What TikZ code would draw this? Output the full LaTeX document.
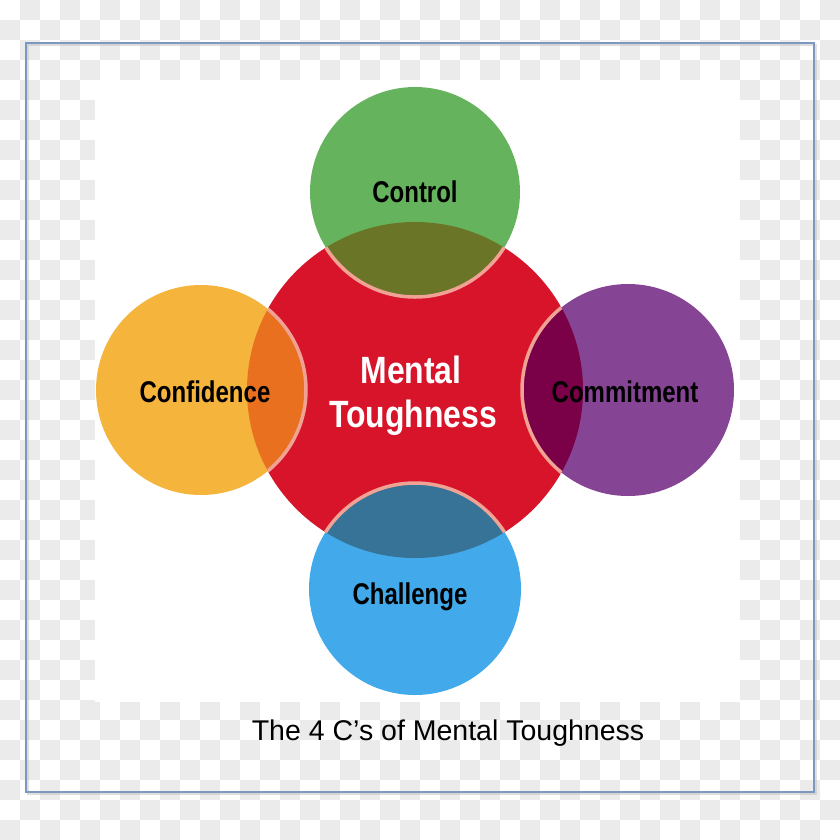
\documentclass[tikz,border=0pt]{standalone}
\usepackage{fontspec}
\setmainfont{Liberation Sans}
\newfontfamily\condfont[FakeStretch=0.80]{Liberation Sans}
\newfontfamily\condfontB[FakeStretch=0.84]{Liberation Sans}
\definecolor{redc}{RGB}{215,20,42}
\definecolor{greenc}{RGB}{102,179,93}
\definecolor{greenov}{RGB}{107,117,40}
\definecolor{orangec}{RGB}{245,180,60}
\definecolor{orangeov}{RGB}{232,112,30}
\definecolor{purplec}{RGB}{134,68,148}
\definecolor{purpleov}{RGB}{122,0,72}
\definecolor{bluec}{RGB}{66,170,234}
\definecolor{blueov}{RGB}{55,115,150}
\definecolor{pinkc}{RGB}{240,162,148}
\definecolor{checkc}{RGB}{235,235,235}
\definecolor{framec}{RGB}{124,152,192}
\tikzset{
  lbl/.style={font=\condfont\bfseries\fontsize{30}{30}\selectfont, text=black, inner sep=0pt, anchor=base},
  mainlbl/.style={font=\condfontB\bfseries\fontsize{38}{38}\selectfont, text=white, inner sep=0pt, anchor=base},
  seam/.style={draw=pinkc, line width=3.5}
}
\begin{document}
\begin{tikzpicture}[x=1pt,y=-1pt]
\useasboundingbox (0,0) rectangle (840,839);
% checkerboard background
\begin{scope}
\clip (0,0) rectangle (840,839);
\foreach \i in {0,2,...,40}{\foreach \j in {1,3,...,41}{\fill[checkc] (\i*20,\j*20) rectangle ++(20,20);}}
\foreach \i in {1,3,...,41}{\foreach \j in {0,2,...,40}{\fill[checkc] (\i*20,\j*20) rectangle ++(20,20);}}
\end{scope}
% white image area
\fill[white] (95,80) rectangle (740,702);
% frame
\draw[black!25, line width=2, opacity=0.5] (28,45) rectangle (816,794);
\draw[framec, line width=2] (26,43) rectangle (814,792);
% circles
\coordinate (cm) at (415,390);
\coordinate (cg) at (415,192);
\coordinate (co) at (201,390);
\coordinate (cp) at (628,390);
\coordinate (cb) at (415,589);
\fill[redc] (cm) circle (168);
\fill[greenc] (cg) circle (105);
\fill[orangec] (co) circle (105);
\fill[purplec] (cp) circle (106);
\fill[bluec] (cb) circle (106);
\begin{scope}
\clip (cm) circle (168);
\fill[greenov] (cg) circle (105);
\fill[orangeov] (co) circle (105);
\fill[purpleov] (cp) circle (106);
\fill[blueov] (cb) circle (106);
\draw[seam] (cg) circle (105);
\draw[seam] (co) circle (105);
\draw[seam] (cp) circle (106);
\draw[seam] (cb) circle (106);
\end{scope}
% labels
\node[lbl] (control) at (415,202) {Control};
\node[lbl] (confidence) at (205,402) {Confidence};
\node[lbl] (commitment) at (625,402) {Commitment};
\node[lbl] (challenge) at (410,604) {Challenge};
\node[mainlbl] (mental) at (411,383) {Mental};
\node[mainlbl] (tough) at (413,427) {Toughness};
\node[font=\fontsize{28.5}{28.5}\selectfont, inner sep=0pt, anchor=base] (caption) at (448,740) {The 4 C’s of Mental Toughness};
\end{tikzpicture}
\end{document}
